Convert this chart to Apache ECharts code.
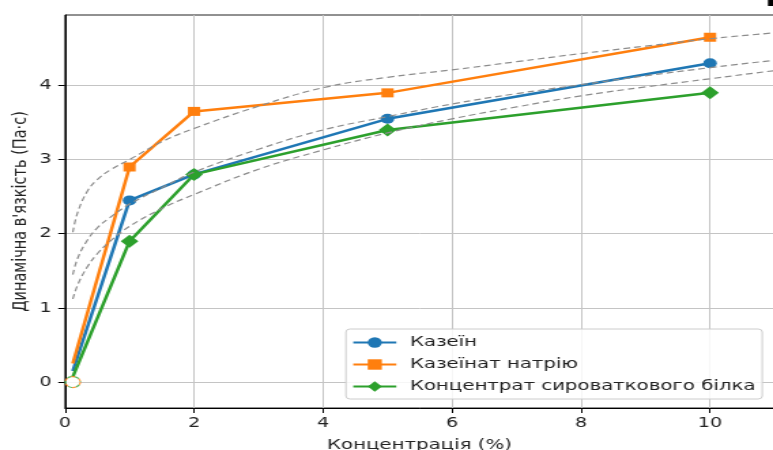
<!DOCTYPE html>
<html>
<head>
<meta charset="utf-8">
<script src="https://cdn.jsdelivr.net/npm/echarts@6/dist/echarts.min.js"></script>
<style>
html,body{margin:0;padding:0;background:#fff;overflow:hidden;}
/* the reference figure is stretched horizontally; draw at a narrower width and stretch */
#c{width:568px;height:450px;transform:scaleX(1.3609);transform-origin:0 0;}
</style>
</head>
<body>
<div id="c"></div>
<script>
// ---- data ----
const concentration   = [0.12, 1, 2, 5, 10];
const casein          = [0.15, 2.45, 2.80, 3.55, 4.30];
const sodiumCaseinate = [0.25, 2.90, 3.65, 3.90, 4.65];
const wheyConcentrate = [0.07, 1.90, 2.80, 3.40, 3.90];
const seriesNames = ['Казеїн', 'Казеїнат натрію', 'Концентрат сироваткового білка'];

// dashed trend curves
const fitX      = [0.12, 0.2, 0.35, 0.5, 0.7, 1, 1.5, 2, 3, 4, 5, 6, 7, 8, 9, 10, 11, 11.5];
const fitTop    = [2.02, 2.30, 2.58, 2.73, 2.86, 3.00, 3.24, 3.42, 3.72, 3.97, 4.11, 4.21, 4.32, 4.43, 4.53, 4.63, 4.71, 4.75];
const fitMiddle = [1.45, 1.68, 1.92, 2.08, 2.22, 2.40, 2.62, 2.83, 3.14, 3.40, 3.58, 3.75, 3.89, 4.01, 4.13, 4.24, 4.34, 4.39];
const fitBottom = [1.12, 1.32, 1.56, 1.73, 1.90, 2.10, 2.34, 2.53, 2.87, 3.13, 3.36, 3.55, 3.71, 3.86, 3.98, 4.09, 4.20, 4.25];

const originPoint = [0.12, 0];
const xTicks = [0, 2, 4, 6, 8, 10];
const yTicks = [0, 1, 2, 3, 4];

const colors = ['#1f77b4', '#ff7f0e', '#2ca02c'];
const FONT = 'DejaVu Sans';

function pts(xs, ys, hideFirst) {
  return xs.map((x, i) => {
    const d = { value: [x, ys[i]] };
    if (hideFirst && i === 0) d.symbol = 'none';
    return d;
  });
}

function mainSeries(name, ys, color, symbol, size) {
  return {
    name: name, type: 'line', data: pts(concentration, ys, true),
    color: color, symbol: symbol, symbolSize: size, showSymbol: true,
    lineStyle: { width: 2.5, color: color },
    itemStyle: { color: color },
    z: 3, animation: false
  };
}
function fitSeries(ys) {
  return {
    type: 'line', data: pts(fitX, ys, false), smooth: 0.4, symbol: 'none',
    lineStyle: { width: 1.2, color: '#8c8c8c', type: [5, 3] },
    silent: true, z: 4, animation: false, legendHoverLink: false
  };
}

const chart = echarts.init(document.getElementById('c'), null, { renderer: 'canvas', width: 568, height: 450 });
chart.setOption({
  animation: false,
  textStyle: { fontFamily: FONT },
  grid: {
    left: 47.8, top: 15, width: 530.8, bottom: 42,
    outerBoundsMode: 'none', containLabel: false,
    show: true, borderColor: '#222', borderWidth: 1, backgroundColor: 'transparent'
  },
  xAxis: {
    type: 'value', min: 0, max: 11.2,
    name: 'Концентрація (%)', nameLocation: 'middle', nameGap: 30, nameMoveOverlap: false,
    nameTextStyle: { fontSize: 14.5, color: '#222', fontFamily: FONT, padding: [0, 10, 0, 0] },
    axisLine: { show: true, onZero: false, lineStyle: { color: '#000', width: 1 } },
    axisTick: { show: true, length: 5, lineStyle: { color: '#000' }, customValues: xTicks },
    axisLabel: { fontSize: 14, color: '#222', margin: 8, fontFamily: FONT, customValues: xTicks },
    splitLine: { show: true, lineStyle: { color: '#c4c4c4', width: 1 } }
  },
  yAxis: {
    type: 'value', min: -0.35, max: 4.95,
    name: "Динамічна в'язкість (Па·с)", nameLocation: 'middle', nameGap: 25, nameMoveOverlap: false,
    nameTextStyle: { fontSize: 14.5, color: '#222', fontFamily: FONT },
    axisLine: { show: true, onZero: false, lineStyle: { color: '#000', width: 1 } },
    axisTick: { show: true, length: 5, lineStyle: { color: '#000' }, customValues: yTicks },
    axisLabel: { fontSize: 14, color: '#222', margin: 10, fontFamily: FONT, customValues: yTicks },
    splitLine: { show: true, lineStyle: { color: '#c4c4c4', width: 1 } }
  },
  legend: {
    data: seriesNames, orient: 'vertical', left: 254.2, top: 329,
    padding: [6, 5, 5, 4.4], itemWidth: 31.6, itemHeight: 13, itemGap: 7,
    backgroundColor: 'rgba(255,255,255,0.85)', borderColor: '#cccccc', borderWidth: 1, borderRadius: 3,
    textStyle: { fontSize: 14.5, color: '#222', fontFamily: FONT, padding: [0, 0, 0, 5] }
  },
  series: [
    mainSeries(seriesNames[0], casein, colors[0], 'circle', 10),
    mainSeries(seriesNames[1], sodiumCaseinate, colors[1], 'rect', 9),
    mainSeries(seriesNames[2], wheyConcentrate, colors[2], 'diamond', 13),
    fitSeries(fitTop), fitSeries(fitMiddle), fitSeries(fitBottom),
    {
      type: 'scatter', symbol: 'circle', symbolSize: 11, z: 5, silent: true,
      data: [
        { value: originPoint, itemStyle: { color: '#fff', borderColor: colors[1], borderWidth: 1.2, borderType: [3, 3] } },
        { value: originPoint, itemStyle: { color: 'rgba(255,255,255,0)', borderColor: colors[2], borderWidth: 1.2, borderType: [3, 3], borderDashOffset: 3 } }
      ]
    }
  ],
  graphic: [
    { type: 'rect', left: 564.3, top: 0, shape: { width: 3.7, height: 6 }, style: { fill: '#000' }, silent: true }
  ]
});
</script>
</body>
</html>
